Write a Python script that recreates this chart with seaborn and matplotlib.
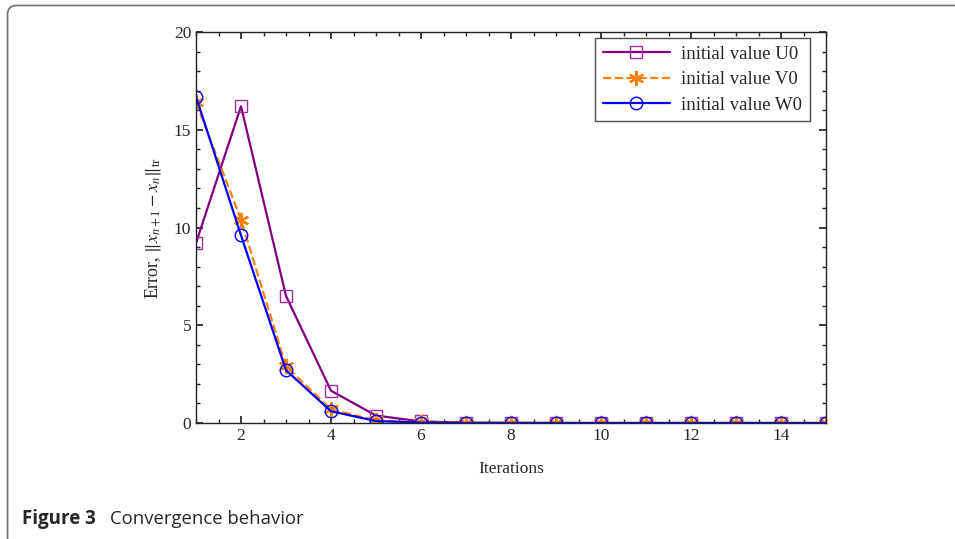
import matplotlib
matplotlib.use("Agg")
import matplotlib.pyplot as plt
import seaborn as sns
import numpy as np
from matplotlib.patches import PathPatch
from matplotlib.path import Path
from matplotlib.ticker import MultipleLocator
from matplotlib.legend_handler import HandlerLine2D
from matplotlib.transforms import IdentityTransform

iterations = list(range(1, 16))
u0 = [9.2, 16.2, 6.5, 1.65, 0.38, 0.08, 0.02, 0.01, 0.0, 0.0, 0.0, 0.0, 0.0, 0.0, 0.0]
v0 = [16.4, 10.4, 2.9, 0.7, 0.13, 0.03, 0.01, 0.0, 0.0, 0.0, 0.0, 0.0, 0.0, 0.0, 0.0]
w0 = [16.7, 9.6, 2.7, 0.6, 0.1, 0.02, 0.0, 0.0, 0.0, 0.0, 0.0, 0.0, 0.0, 0.0, 0.0]
labels = ["initial value U0", "initial value V0", "initial value W0"]

sns.set_theme(style="ticks")
plt.rcParams['font.family'] = ['Liberation Serif', 'DejaVu Serif']
plt.rcParams['mathtext.fontset'] = 'stix'


class RightMarkerHandler(HandlerLine2D):
    def get_xdata(self, legend, xdescent, ydescent, width, height, fontsize):
        xdata = np.array([-xdescent, -xdescent + width])
        xdata_marker = np.array([-xdescent + 0.67 * width])
        return xdata, xdata_marker


fig = plt.figure(figsize=(9.55, 5.39), dpi=100)
ax = fig.add_axes([196/955, 1-423/539, (826-196)/955, (423-32)/539])

# outer frame (pixel coordinates): left edge, rounded top-left corner, top edge
fx, fy, r = 7.5, 539 - 5.5, 9
frame_path = Path([(fx, -20), (fx, fy - r), (fx, fy), (fx + r, fy), (1200, fy)],
                  [Path.MOVETO, Path.LINETO, Path.CURVE3, Path.CURVE3, Path.LINETO])
fig.patches.append(PathPatch(frame_path, transform=IdentityTransform(), fill=False,
                             edgecolor="#777777", linewidth=1.3))

sns.lineplot(x=iterations, y=u0, ax=ax, color="#800080", linewidth=1.6, marker="s",
             markersize=8, markerfacecolor="none", markeredgecolor="#A030A0", markeredgewidth=1.0,
             label=labels[0])
sns.lineplot(x=iterations, y=v0, ax=ax, color="#FF8000", linewidth=1.6, linestyle="--",
             marker=(6, 2, 0), markersize=11, markeredgecolor="#FF8000", markeredgewidth=1.6,
             label=labels[1])
sns.lineplot(x=iterations, y=w0, ax=ax, color="#0000FF", linewidth=1.6, marker="o",
             markersize=9, markerfacecolor="none", markeredgecolor="#0000FF", markeredgewidth=1.0,
             label=labels[2])

ax.set_xlim(1, 15)
ax.set_ylim(0, 20)
ax.xaxis.set_major_locator(MultipleLocator(2))
ax.xaxis.set_minor_locator(MultipleLocator(0.5))
ax.yaxis.set_major_locator(MultipleLocator(5))
ax.yaxis.set_minor_locator(MultipleLocator(1))
ax.tick_params(which="both", direction="in", top=True, right=True, labelsize=12.5, color="#222222")
ax.tick_params(which="major", length=5)
ax.tick_params(which="minor", length=3)
for s in ax.spines.values():
    s.set_visible(True)
    s.set_linewidth(1.0)
    s.set_color("#222222")

ax.set_xlabel("Iterations", fontsize=12.5, labelpad=12)
ax.set_ylabel(r"Error, $\|x_{n+1}-x_n\|_{\mathrm{tr}}$", fontsize=13, labelpad=8)

handles, lbls = ax.get_legend_handles_labels()
leg = ax.legend(handles, lbls, loc="upper right", bbox_to_anchor=(0.9746, 0.9847), fontsize=13.5,
                frameon=True, fancybox=False, edgecolor="#222222", handlelength=3.6,
                borderpad=0.4, labelspacing=0.45, handletextpad=0.6, borderaxespad=0,
                handler_map={h: RightMarkerHandler(numpoints=1) for h in handles})
leg.get_frame().set_linewidth(1.0)

fig.text(22/955, 1-524/539, "Figure 3", fontsize=13.5, fontweight="bold",
         family=["Open Sans", "DejaVu Sans"], va="baseline")
fig.text(110/955, 1-524/539, "Convergence behavior", fontsize=13.3,
         family=["Open Sans", "DejaVu Sans"], va="baseline")

fig.savefig("out.png", dpi=100)
